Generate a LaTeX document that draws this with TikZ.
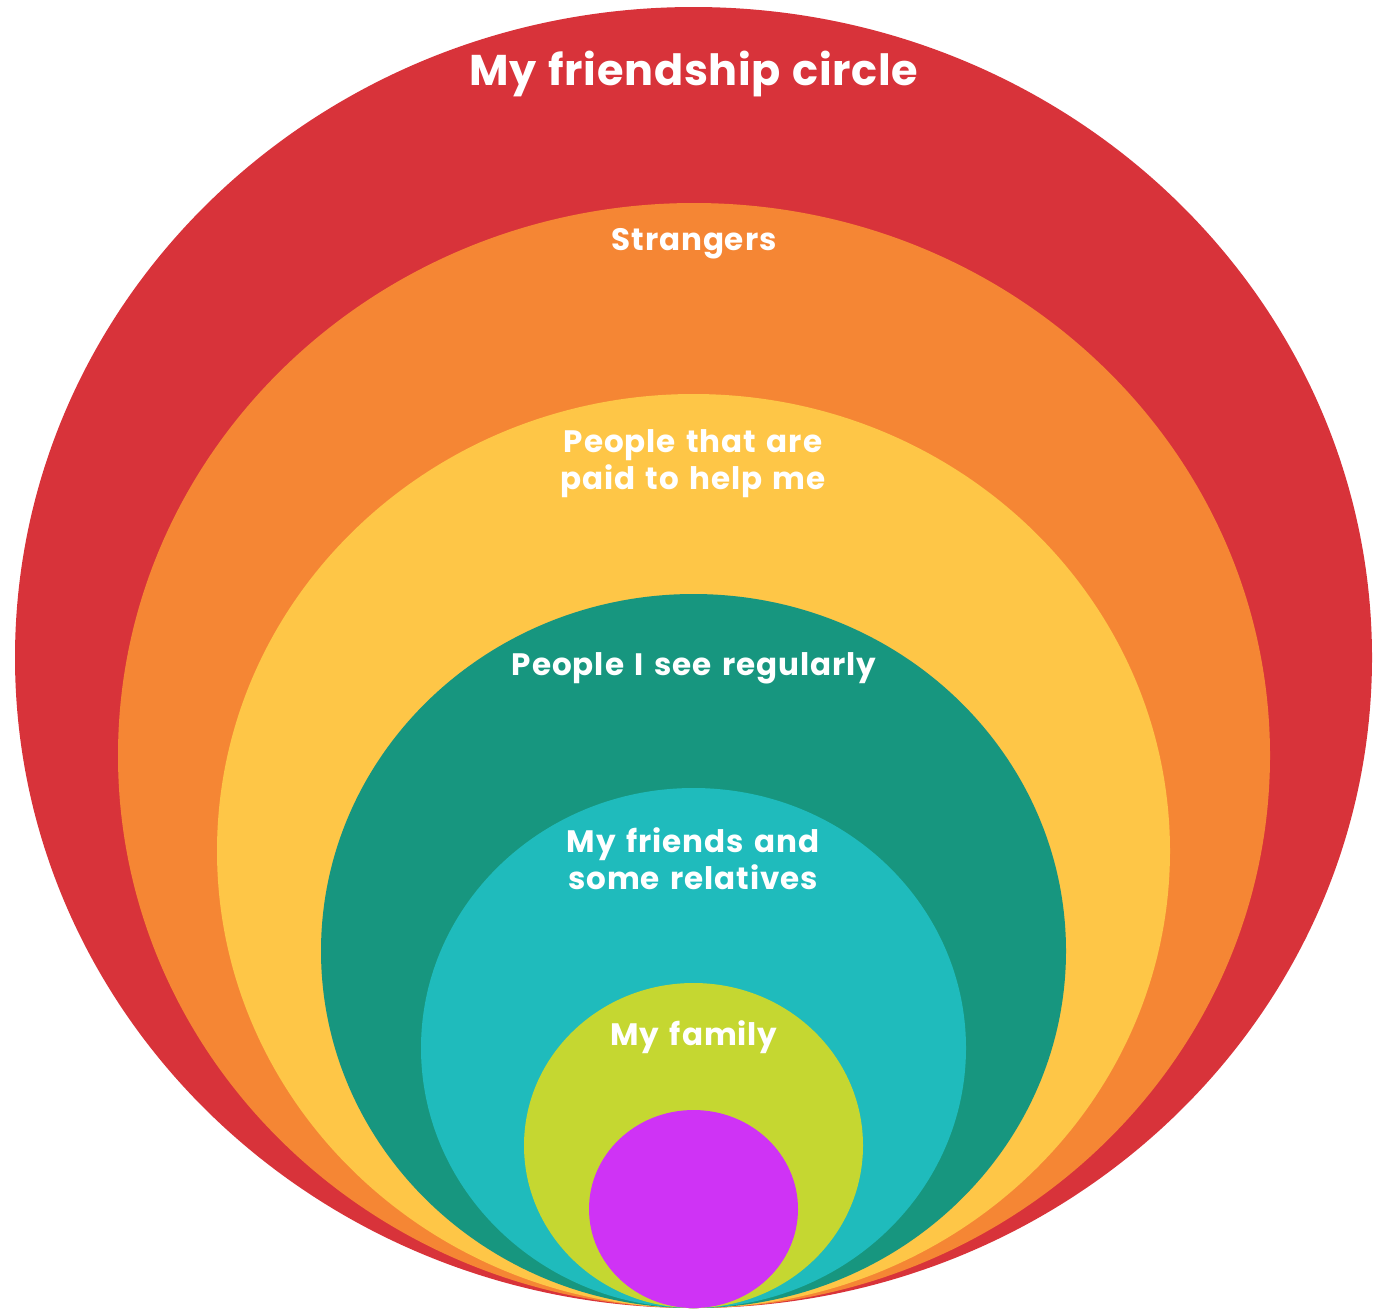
\documentclass[tikz,border=0pt]{standalone}
\usepackage{fontspec}
\setmainfont{Poppins}[UprightFont=* Bold, BoldFont=* Bold]
\newfontfamily\lblfont{Poppins}[UprightFont=* Bold, BoldFont=* Bold, LetterSpace=3, WordSpace=1.4]
\newfontfamily\titlefont{Poppins}[UprightFont=* Bold, BoldFont=* Bold, LetterSpace=1.6, WordSpace=1.2]
\definecolor{cred}{HTML}{D8333A}
\definecolor{corange}{HTML}{F58634}
\definecolor{cyellow}{HTML}{FEC647}
\definecolor{cteal}{HTML}{17967F}
\definecolor{ccyan}{HTML}{1FBBBC}
\definecolor{clime}{HTML}{C5D731}
\definecolor{cmag}{HTML}{CF33F5}
\begin{document}
\begin{tikzpicture}[x=1pt,y=-1pt,
  lbl/.style={text=white,font=\lblfont\fontsize{31}{37.5}\selectfont,inner sep=0pt,anchor=base,align=center}]
\useasboundingbox (0,0) rectangle (1388,1310);
\fill[cred] (693.5,657.5) ellipse [x radius=678.5, y radius=650.5];
\fill[corange] (694,755.5) ellipse [x radius=576, y radius=552.5];
\fill[cyellow] (693.5,851) ellipse [x radius=476.5, y radius=457];
\fill[cteal] (693.5,951) ellipse [x radius=372.5, y radius=357];
\fill[ccyan] (693.5,1048) ellipse [x radius=272.5, y radius=260];
\fill[clime] (693.5,1145.5) ellipse [x radius=169.5, y radius=162.5];
\fill[cmag] (693.5,1209) ellipse [x radius=104.5, y radius=99];
\node[lbl,font=\titlefont\fontsize{43}{48}\selectfont] (title) at (694,85) {My friendship circle};
\node[lbl] (strangers) at (694,250) {Strangers};
\node[lbl] (paid) at (693,489.5) {People that are\\paid to help me};
\node[lbl] (regular) at (694,675) {People I see regularly};
\node[lbl] (friends) at (693,889.5) {My friends and\\some relatives};
\node[lbl] (family) at (694,1045) {My family};
\end{tikzpicture}
\end{document}
